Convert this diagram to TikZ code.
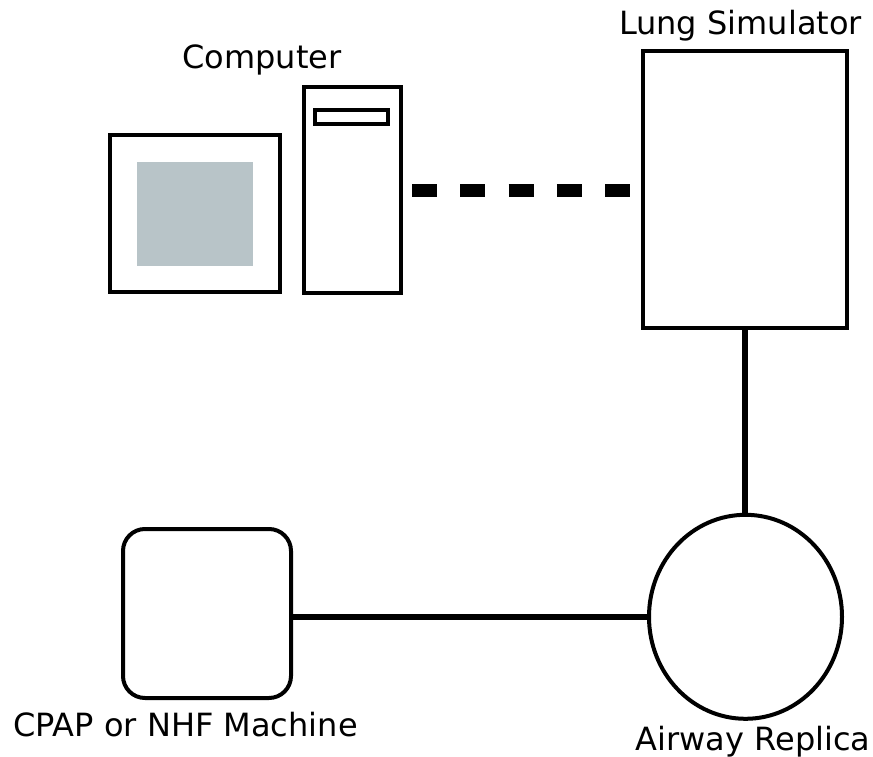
\documentclass[tikz,border=0pt]{standalone}
\usepackage{fontspec}
\usetikzlibrary{shapes.geometric}
\setmainfont{DejaVu Sans}
\definecolor{screengray}{RGB}{184,196,200}
\begin{document}
\begin{tikzpicture}[x=1bp,y=-1bp,
  box/.style={draw=black,line width=4bp,fill=white,inner sep=0pt,outer sep=0pt},
  label/.style={font=\fontsize{32bp}{38bp}\selectfont,anchor=base,inner sep=0pt},
  link/.style={line width=6bp},
  dashlink/.style={line width=13bp,dash pattern=on 25bp off 23.25bp}]
\useasboundingbox (0,0) rectangle (873,757);
% computer
\node[box,minimum width=170bp,minimum height=157bp] (monitor) at (195,213.5) {};
\node[fill=screengray,inner sep=0pt,minimum width=116bp,minimum height=104bp] (screen) at (195,214) {};
\node[box,minimum width=97bp,minimum height=206bp] (tower) at (352.5,190) {};
\node[box,minimum width=73bp,minimum height=14bp] (slot) at (351.5,117) {};
\node[label] (complabel) at (262,69) {Computer};
% lung simulator
\node[box,minimum width=204bp,minimum height=277bp] (lung) at (745,189.5) {};
\node[label] (lunglabel) at (740.5,35) {Lung Simulator};
% airway replica
\node[box,ellipse,minimum width=193bp,minimum height=204bp] (airway) at (745.5,616.8) {};
\node[label] (airwaylabel) at (753,750) {Airway Replica};
% CPAP
\node[box,rounded corners=22bp,minimum width=168bp,minimum height=169bp] (cpap) at (207,613.5) {};
\node[label] (cpaplabel) at (185.5,736) {CPAP or NHF Machine};
% connectors
\draw[dashlink] ([xshift=11bp]tower.east |- 0,190) -- ([xshift=-13bp]lung.west |- 0,190);
\draw[link] (lung.south) -- (lung.south |- airway.north);
\draw[link] (cpap.east |- airway.west) -- (airway.west);
\end{tikzpicture}
\end{document}
